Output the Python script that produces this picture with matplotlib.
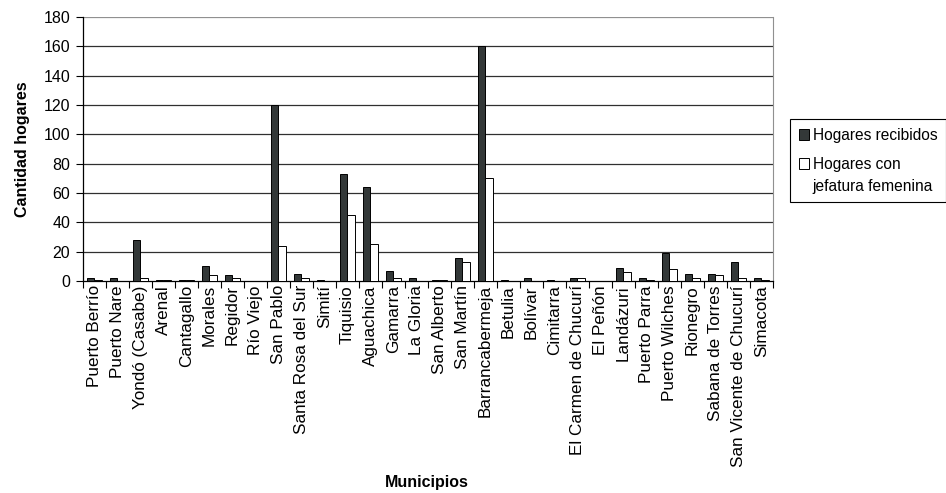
import matplotlib
matplotlib.use("Agg")
import matplotlib.pyplot as plt
from matplotlib.patches import Patch
import numpy as np

plt.rcParams['font.family'] = ['Liberation Sans', 'DejaVu Sans']

municipios = [
    "Puerto Berrío", "Puerto Nare", "Yondó (Casabe)", "Arenal", "Cantagallo",
    "Morales", "Regidor", "Río Viejo", "San Pablo", "Santa Rosa del Sur",
    "Simití", "Tiquisio", "Aguachica", "Gamarra", "La Gloria", "San Alberto",
    "San Martín", "Barrancabermeja", "Betulia", "Bolívar", "Cimitarra",
    "El Carmen de Chucurí", "El Peñón", "Landázuri", "Puerto Parra",
    "Puerto Wilches", "Rionegro", "Sabana de Torres", "San Vicente de Chucurí",
    "Simacota",
]
hogares_recibidos = [2, 2, 28, 1, 1, 10, 4, 0, 120, 5,
                     1, 73, 64, 7, 2, 1, 16, 160, 1, 2,
                     1, 2, 0, 9, 2, 19, 5, 5, 13, 2]
jefatura_femenina = [1, 0, 2, 1, 1, 4, 2, 0, 24, 2,
                     0, 45, 25, 2, 0, 1, 13, 70, 0, 0,
                     0, 2, 0, 6, 1, 8, 2, 4, 2, 1]
y_ticks = list(range(0, 181, 20))

fs = 11.5
fs_x = 12.3
fig = plt.figure(figsize=(9.46, 4.93), dpi=100)
ax = fig.add_axes([82.7 / 946, 1 - 281 / 493, (773 - 82.7) / 946, (281 - 17) / 493])

x = np.arange(len(municipios))
w = 0.33
ax.bar(x - w / 2, hogares_recibidos, width=w, color='#333838',
       edgecolor='black', linewidth=0.7, zorder=3)
ax.bar(x + w / 2, jefatura_femenina, width=w, color='white',
       edgecolor='black', linewidth=0.7, zorder=3)

ax.set_xlim(-0.5, len(municipios) - 0.5)
ax.set_ylim(0, 180)
ax.set_yticks(y_ticks)
ax.set_yticklabels([str(v) for v in y_ticks], fontsize=fs)
for v in y_ticks[1:-1]:
    ax.axhline(v, color='#303030', linewidth=0.9, zorder=1)
ax.axhline(180, color='#909090', linewidth=0.9, zorder=1)

# category boundaries as major ticks, names centred as minor ticks
ax.set_xticks(np.arange(-0.5, len(municipios), 1.0))
ax.set_xticklabels([])
ax.set_xticks(x, minor=True)
ax.set_xticklabels(municipios, minor=True, rotation=90, fontsize=fs_x)
ax.tick_params(axis='x', which='major', direction='out', length=5, width=0.8)
ax.tick_params(axis='x', which='minor', length=0, pad=3)
ax.tick_params(axis='y', direction='out', length=5, width=0.8, pad=4)

ax.spines['left'].set_color('black')
ax.spines['bottom'].set_color('black')
ax.spines['top'].set_visible(False)
ax.spines['right'].set_color('#909090')
ax.spines['left'].set_linewidth(0.9)
ax.spines['bottom'].set_linewidth(0.9)

ax.set_ylabel("Cantidad hogares", fontsize=fs, fontweight='bold', labelpad=10)
fig.text(427 / 946, 1 - 482 / 493, "Municipios", fontsize=fs,
         fontweight='bold', ha='center', va='center')

handles = [Patch(facecolor='#333838', edgecolor='black', linewidth=0.7),
           Patch(facecolor='white', edgecolor='black', linewidth=0.7)]
leg = fig.legend(handles, ["Hogares recibidos", "Hogares con\njefatura femenina"],
                 loc='upper left', bbox_to_anchor=(790 / 946, 1 - 119 / 493),
                 fontsize=11.2, frameon=True, fancybox=False, framealpha=1,
                 edgecolor='black', handlelength=0.7, handleheight=0.7,
                 handletextpad=0.2, borderpad=0.55, labelspacing=0.9,
                 borderaxespad=0)
leg.get_frame().set_linewidth(0.8)
for t in leg.get_texts():
    t.set_linespacing(1.6)
# line the second swatch up with the first line of its two-line label
second = leg.legend_handles[1]
second.set_y(second.get_y() + 8.5)

fig.savefig("out.png", dpi=100)
